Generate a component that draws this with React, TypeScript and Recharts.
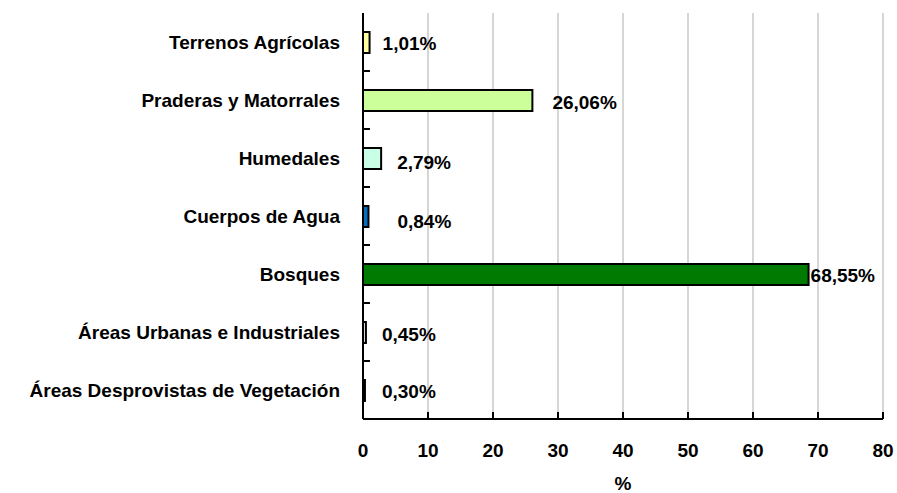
import React from 'react';
import {
  BarChart,
  Bar,
  XAxis,
  YAxis,
  CartesianGrid,
  Cell,
  LabelList
} from 'recharts';

// categories, top to bottom
const categories = [
  'Terrenos Agrícolas',
  'Praderas y Matorrales',
  'Humedales',
  'Cuerpos de Agua',
  'Bosques',
  'Áreas Urbanas e Industriales',
  'Áreas Desprovistas de Vegetación'
];
const shares = [1.01, 26.06, 2.79, 0.84, 68.55, 0.45, 0.3];
const xTicks = [0, 10, 20, 30, 40, 50, 60, 70, 80];

const barColors = ['#ffffa0', '#ccff99', '#c8ffe6', '#0070c0', '#007a00', '#e6e6e6', '#404040'];
// hand-placed label offsets, as in the original
const labelDx = [13, 20, 16, 29, 2, 16, 17];
const labelDy = [1, 2, 4, 5, 1, 2, 1];

const W = 897;
const H = 493;
const M = { top: 13, right: 14, bottom: 0, left: 0 };
const Y_W = 363;
const X_H = 74;
const FONT = '"Liberation Sans Narrow", "Liberation Sans", Arial, sans-serif';
const FS = 19;

const data = categories.map((name, i) => ({ name, value: shares[i] }));
const band = (H - M.top - M.bottom - X_H) / categories.length;

const fmt = (v: number) => v.toFixed(2).replace('.', ',') + '%';

const YTick = (props: any) => {
  const { x, y, payload, index } = props;
  return (
    <g>
      <text x={x} y={y} textAnchor="end" dominantBaseline="central" fontFamily={FONT} fontWeight="bold" fontSize={FS} fill="#000">
        {payload.value}
      </text>
      {index < categories.length - 1 && (
        <line x1={x + 23} x2={x + 30} y1={y + band / 2} y2={y + band / 2} stroke="#000" strokeWidth={2} />
      )}
    </g>
  );
};

const XTick = (props: any) => {
  const { x, y, payload } = props;
  return (
    <g>
      <line x1={x} x2={x} y1={y - 7} y2={y} stroke="#000" strokeWidth={2} />
      <text x={x} y={y + 31} textAnchor="middle" dominantBaseline="central" fontFamily={FONT} fontWeight="bold" fontSize={FS} fill="#000">
        {payload.value}
      </text>
    </g>
  );
};

const ValueLabel = (props: any) => {
  const { x, y, width, height, value, index } = props;
  return (
    <text
      x={x + width + labelDx[index]}
      y={y + height / 2 + labelDy[index]}
      dominantBaseline="central"
      fontFamily={FONT}
      fontWeight="bold"
      fontSize={FS}
      fill="#000"
    >
      {fmt(value)}
    </text>
  );
};

export default function App() {
  return (
    <div style={{ position: 'absolute', left: 0, top: 0, width: W, height: H, background: '#fff' }}>
      <BarChart width={W} height={H} data={data} layout="vertical" margin={M} barSize={21}>
        <CartesianGrid horizontal={false} stroke="#d6d6d6" strokeWidth={2} />
        <XAxis
          type="number"
          domain={[0, 80]}
          ticks={xTicks}
          interval={0}
          height={X_H}
          tickSize={0}
          tickMargin={0}
          tick={<XTick />}
          axisLine={{ stroke: '#000', strokeWidth: 2 }}
          label={{ value: '%', position: 'insideBottom', offset: 0, dy: -3, fontFamily: FONT, fontWeight: 'bold', fontSize: FS, fill: '#000' }}
        />
        <XAxis xAxisId="top" type="number" domain={[0, 80]} orientation="top" height={0} tick={false} tickLine={false} axisLine={{ stroke: '#000', strokeWidth: 2 }} />
        <YAxis
          type="category"
          dataKey="name"
          width={Y_W}
          tickSize={0}
          tickMargin={23}
          tick={<YTick />}
          interval={0}
          axisLine={{ stroke: '#000', strokeWidth: 2 }}
        />
        <YAxis yAxisId="right" type="category" dataKey="name" orientation="right" width={0} tick={false} tickLine={false} axisLine={{ stroke: '#000', strokeWidth: 2 }} />
        <Bar dataKey="value" stroke="#000" strokeWidth={2} isAnimationActive={false}>
          {data.map((d, i) => (
            <Cell key={d.name} fill={barColors[i]} />
          ))}
          <LabelList dataKey="value" content={<ValueLabel />} />
        </Bar>
      </BarChart>
    </div>
  );
}
